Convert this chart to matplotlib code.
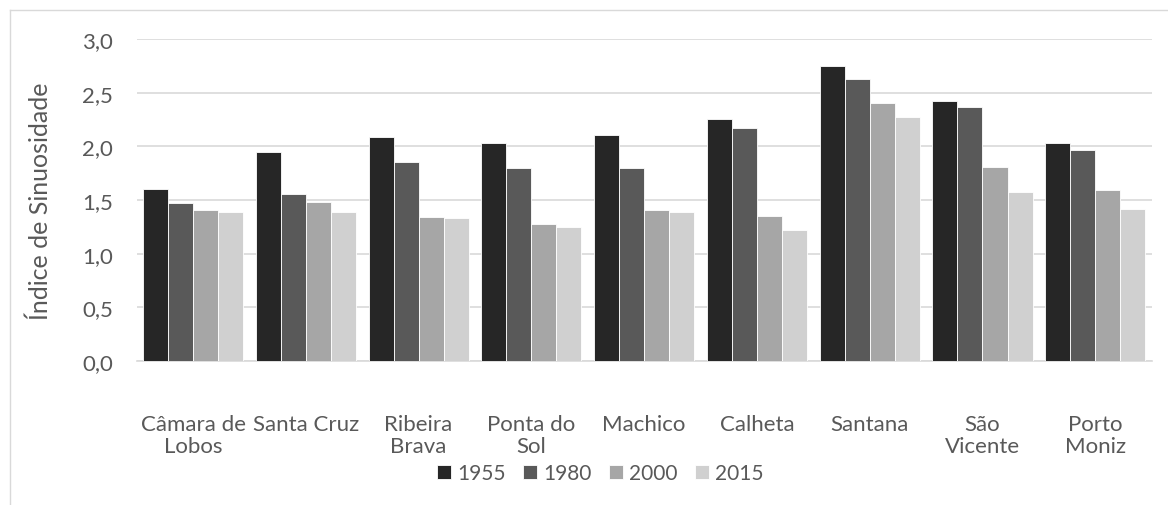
import matplotlib.pyplot as plt
import numpy as np
from matplotlib.lines import Line2D

plt.rcParams['font.family'] = ['Lato', 'DejaVu Sans']

concelhos = ["Câmara de\nLobos", "Santa Cruz", "Ribeira\nBrava", "Ponta do\nSol", "Machico",
             "Calheta", "Santana", "São\nVicente", "Porto\nMoniz"]
anos = ["1955", "1980", "2000", "2015"]
v1955 = [1.60, 1.95, 2.09, 2.03, 2.11, 2.25, 2.75, 2.42, 2.03]
v1980 = [1.47, 1.56, 1.85, 1.80, 1.80, 2.17, 2.63, 2.37, 1.97]
v2000 = [1.41, 1.48, 1.34, 1.28, 1.41, 1.35, 2.40, 1.81, 1.59]
v2015 = [1.39, 1.39, 1.33, 1.25, 1.39, 1.22, 2.27, 1.57, 1.42]
cores = ["#262626", "#595959", "#a6a6a6", "#d0d0d0"]
texto = "#595959"

fig = plt.figure(figsize=(11.68, 5.06), dpi=100)
ax = fig.add_axes([0.117, 0.2846, 0.869, 0.6364])

x = np.arange(len(concelhos))
w = 0.222
for i, serie in enumerate([v1955, v1980, v2000, v2015]):
    ax.bar(x + (i - 1.5) * w, serie, w, color=cores[i], edgecolor="white",
           linewidth=0.6, label=anos[i], zorder=3)

ax.set_xlim(-0.5, len(concelhos) - 0.5)
ax.set_ylim(0, 3.0)
ax.set_yticks(np.arange(0, 3.01, 0.5))
ax.set_yticklabels([f"{t:.1f}".replace(".", ",") for t in np.arange(0, 3.01, 0.5)])
ax.set_xticks(x)
ax.set_xticklabels(concelhos, linespacing=1.15)
ax.tick_params(axis="both", length=0, labelsize=16, colors=texto)
ax.tick_params(axis="y", pad=17)
ax.tick_params(axis="x", pad=38)
ax.grid(axis="y", color="#d9d9d9", linewidth=1.2, zorder=0)
for s in ["top", "right", "left"]:
    ax.spines[s].set_visible(False)
ax.spines["bottom"].set_color("#d9d9d9")
ax.spines["bottom"].set_linewidth(1.2)
ax.set_ylabel("Índice de Sinuosidade", fontsize=18, color=texto, labelpad=22)

fig.legend(loc="center", bbox_to_anchor=(0.514, 0.063), ncol=4, frameon=False,
           fontsize=15, labelcolor=texto, handlelength=0.65, handleheight=0.65,
           handletextpad=0.3, columnspacing=0.85)

# moldura do gráfico
fig.add_artist(Line2D([10 / 1168, 10 / 1168], [0, 1 - 11 / 506], transform=fig.transFigure,
                      color="#d9d9d9", linewidth=1))
fig.add_artist(Line2D([10 / 1168, 1], [1 - 11 / 506, 1 - 11 / 506], transform=fig.transFigure,
                      color="#d9d9d9", linewidth=1))

fig.savefig("out.png", dpi=100)
